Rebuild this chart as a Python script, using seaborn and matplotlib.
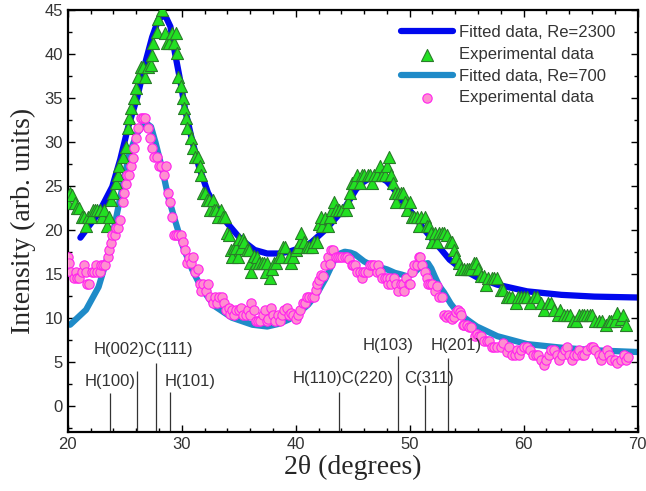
import numpy as np
import pandas as pd
import matplotlib
matplotlib.use("Agg")
import matplotlib.pyplot as plt
from matplotlib.ticker import MultipleLocator
import seaborn as sns

# ---------------- data ----------------
tri_x = [20.0, 20.2, 20.4, 20.6, 20.8, 21.0, 21.2, 21.4, 21.6, 21.8, 22.0, 22.2, 22.4, 22.6, 22.8, 23.0,
         23.2, 23.4, 23.6, 23.8, 24.0, 24.2, 24.4, 24.5, 24.8, 25.1, 25.3, 25.4, 25.5, 25.8, 26.0, 26.2,
         26.4, 26.6, 26.8, 27.0, 27.3, 27.4, 27.5, 27.8, 27.9, 28.3, 28.5, 28.7, 28.9, 29.1, 29.3, 29.5,
         29.6, 29.7, 29.9, 30.1, 30.2, 30.4, 30.5, 30.8, 31.0, 31.2, 31.4, 31.6, 31.7, 31.9, 32.0, 32.2,
         32.4, 32.5, 32.7, 32.8, 33.0, 33.2, 33.4, 33.6, 33.8, 34.0, 34.1, 34.3, 34.4, 34.6, 34.8, 34.9,
         35.0, 35.2, 35.4, 35.5, 35.7, 35.9, 36.0, 36.1, 36.3, 36.5, 36.6, 36.8, 37.0, 37.2, 37.4, 37.5,
         37.7, 37.9, 38.1, 38.3, 38.5, 38.7, 38.9, 39.1, 39.4, 39.6, 39.8, 40.0, 40.2, 40.4, 40.5, 40.7,
         41.0, 41.2, 41.4, 41.6, 41.9, 42.0, 42.2, 42.3, 42.6, 42.8, 43.0, 43.2, 43.4, 43.5, 43.8, 44.1,
         44.4, 44.6, 44.8, 44.9, 45.1, 45.4, 45.6, 45.8, 46.0, 46.3, 46.5, 46.7, 46.9, 47.1, 47.4, 47.6,
         47.8, 48.0, 48.2, 48.4, 48.5, 48.7, 48.8, 49.0, 49.2, 49.4, 49.6, 49.8, 50.0, 50.2, 50.4, 50.6,
         50.8, 51.0, 51.3, 51.5, 51.7, 51.9, 52.0, 52.2, 52.4, 52.6, 52.8, 53.0, 53.3, 53.5, 53.7, 53.9,
         54.1, 54.3, 54.5, 54.8, 55.0, 55.2, 55.4, 55.6, 55.8, 56.0, 56.3, 56.5, 56.7, 56.9, 57.2, 57.4,
         57.7, 58.0, 58.2, 58.5, 58.7, 59.0, 59.3, 59.5, 59.8, 60.0, 60.3, 60.6, 60.9, 61.2, 61.5, 61.8,
         62.1, 62.4, 62.7, 63.0, 63.2, 63.5, 63.8, 64.1, 64.3, 64.6, 64.9, 65.1, 65.3, 65.6, 65.8, 66.0,
         66.3, 66.6, 66.9, 67.2, 67.5, 67.7, 68.0, 68.2, 68.5, 68.7, 69.0]
tri_y = [23.0, 24.2, 24.0, 23.0, 22.5, 22.5, 21.4, 21.4, 20.4, 21.4, 21.4, 22.3, 22.3, 22.3, 22.3, 21.4,
         22.3, 20.4, 21.4, 23.4, 24.2, 25.3, 26.2, 27.2, 28.3, 29.4, 31.6, 32.7, 33.8, 35.0, 36.1, 37.4,
         38.5, 38.5, 37.4, 38.5, 38.7, 39.9, 41.2, 42.5, 43.9, 45.0, 42.4, 41.2, 41.2, 42.4, 41.2, 42.4,
         40.1, 37.4, 36.3, 35.0, 33.8, 32.7, 31.6, 30.4, 29.3, 28.3, 28.3, 27.2, 26.2, 24.2, 24.2, 23.4,
         23.4, 22.3, 23.4, 22.3, 22.3, 21.4, 22.3, 21.4, 21.4, 19.6, 19.4, 17.7, 16.9, 17.9, 17.9, 16.9,
         18.9, 17.9, 18.9, 18.6, 17.7, 17.7, 16.2, 15.2, 17.0, 16.2, 16.9, 16.2, 16.2, 16.2, 15.2, 16.2,
         14.5, 15.5, 16.2, 16.2, 16.9, 16.9, 18.0, 18.0, 16.9, 16.2, 16.9, 17.7, 18.0, 18.6, 19.6, 18.6,
         18.0, 18.0, 18.0, 18.6, 18.6, 20.6, 21.4, 20.4, 21.3, 20.4, 21.4, 22.3, 23.2, 22.3, 22.3, 22.3,
         22.3, 23.2, 24.2, 25.3, 25.3, 26.2, 25.3, 26.2, 26.2, 26.2, 26.2, 25.3, 26.2, 26.2, 27.2, 26.2,
         26.2, 27.2, 28.3, 26.2, 25.3, 24.2, 23.2, 24.2, 24.2, 24.2, 23.2, 22.3, 23.2, 21.4, 21.4, 21.4,
         20.4, 21.4, 21.4, 20.4, 20.4, 19.6, 18.6, 19.6, 18.6, 19.6, 19.6, 19.6, 19.4, 18.6, 18.6, 17.7,
         16.9, 16.2, 15.5, 15.5, 15.5, 15.5, 15.5, 16.2, 16.2, 15.5, 14.7, 14.7, 13.7, 14.5, 14.5, 14.5,
         14.5, 13.2, 13.2, 12.4, 12.4, 12.4, 11.7, 12.4, 12.4, 12.4, 12.4, 11.7, 12.4, 12.4, 11.7, 10.9,
         11.7, 11.7, 10.9, 10.3, 10.9, 10.3, 10.3, 10.3, 9.6, 9.6, 10.3, 10.3, 10.3, 10.3, 10.3, 10.3,
         9.6, 9.6, 9.6, 9.2, 9.6, 9.6, 9.6, 10.5, 9.8, 10.3, 9.2]

cir_x = [20.0, 20.1, 20.3, 20.5, 20.7, 20.8, 21.0, 21.2, 21.4, 21.6, 21.7, 21.9, 22.1, 22.3, 22.5, 22.6,
         22.8, 22.9, 23.1, 23.3, 23.5, 23.6, 23.8, 23.9, 24.1, 24.2, 24.4, 24.6, 24.8, 24.9, 25.1, 25.2,
         25.4, 25.5, 25.7, 25.8, 26.0, 26.2, 26.4, 26.6, 26.8, 27.0, 27.2, 27.4, 27.6, 27.8, 28.0, 28.2,
         28.4, 28.6, 28.8, 29.0, 29.1, 29.3, 29.5, 29.7, 29.9, 30.1, 30.3, 30.5, 30.6, 30.8, 31.0, 31.2,
         31.4, 31.6, 31.7, 31.9, 32.1, 32.3, 32.5, 32.7, 32.9, 33.1, 33.3, 33.5, 33.7, 33.9, 34.1, 34.2,
         34.4, 34.6, 34.8, 35.0, 35.2, 35.4, 35.6, 35.8, 36.0, 36.1, 36.3, 36.5, 36.7, 36.9, 37.1, 37.3,
         37.5, 37.6, 37.8, 38.0, 38.2, 38.4, 38.6, 38.8, 39.0, 39.2, 39.4, 39.6, 39.8, 40.0, 40.2, 40.4,
         40.6, 40.8, 41.0, 41.2, 41.4, 41.6, 41.8, 41.9, 42.0, 42.2, 42.4, 42.6, 42.8, 43.0, 43.1, 43.3,
         43.5, 43.7, 43.9, 44.1, 44.3, 44.5, 44.7, 44.9, 45.0, 45.2, 45.4, 45.6, 45.8, 45.9, 46.1, 46.3,
         46.5, 46.7, 46.9, 47.1, 47.2, 47.4, 47.6, 47.8, 48.0, 48.1, 48.3, 48.4, 48.6, 48.8, 49.0, 49.2,
         49.4, 49.5, 49.7, 49.9, 50.0, 50.2, 50.4, 50.6, 50.8, 50.9, 51.1, 51.3, 51.5, 51.6, 51.8, 52.0,
         52.2, 52.4, 52.6, 52.8, 53.0, 53.2, 53.4, 53.5, 53.7, 53.9, 54.1, 54.2, 54.4, 54.5, 54.7, 54.8,
         55.0, 55.2, 55.4, 55.7, 55.9, 56.1, 56.3, 56.5, 56.8, 57.0, 57.2, 57.4, 57.7, 58.0, 58.2, 58.5,
         58.7, 59.0, 59.2, 59.4, 59.6, 59.8, 60.0, 60.3, 60.6, 60.8, 61.1, 61.3, 61.5, 61.8, 62.0, 62.2,
         62.4, 62.7, 62.9, 63.1, 63.4, 63.6, 63.8, 64.0, 64.2, 64.4, 64.7, 64.9, 65.1, 65.3, 65.6, 65.9,
         66.1, 66.3, 66.6, 66.8, 67.0, 67.3, 67.5, 67.7, 68.0, 68.2, 68.5, 68.8, 69.0, 69.2]
cir_y = [16.9, 16.2, 15.2, 14.5, 15.2, 14.5, 14.5, 15.2, 16.0, 15.2, 13.8, 13.8, 15.2, 15.2, 16.0, 15.2,
         15.2, 16.0, 16.0, 16.0, 16.9, 17.7, 18.5, 19.4, 19.4, 20.2, 20.2, 21.1, 23.2, 24.2, 25.2, 26.2,
         26.2, 27.2, 28.2, 29.3, 30.4, 31.6, 32.7, 32.7, 32.7, 31.6, 30.4, 29.3, 28.3, 28.3, 27.2, 27.2,
         26.2, 27.2, 24.2, 23.2, 21.4, 19.4, 19.4, 19.4, 19.4, 18.6, 17.7, 16.2, 16.8, 16.2, 16.9, 15.2,
         15.5, 13.8, 13.0, 13.8, 13.0, 13.8, 12.4, 11.7, 12.4, 11.7, 12.4, 12.3, 11.7, 10.9, 11.1, 10.4,
         10.9, 10.3, 10.9, 10.9, 11.1, 10.3, 10.3, 10.9, 10.3, 11.7, 10.9, 9.6, 9.6, 9.6, 10.3, 10.9,
         9.6, 9.8, 11.1, 10.3, 9.6, 10.3, 9.6, 10.3, 10.9, 11.1, 10.3, 10.5, 10.3, 9.8, 10.3, 10.9,
         11.7, 11.7, 12.3, 12.4, 12.4, 12.4, 13.2, 13.8, 14.3, 14.8, 14.7, 16.0, 16.9, 16.1, 17.7, 17.7,
         16.9, 16.9, 16.9, 16.9, 16.9, 16.9, 16.7, 16.0, 16.0, 16.0, 15.2, 15.2, 14.5, 15.2, 15.2, 15.2,
         16.0, 16.0, 16.0, 15.2, 16.0, 15.2, 14.5, 14.5, 14.5, 13.8, 14.5, 13.8, 14.5, 13.8, 13.0, 13.8,
         13.8, 13.0, 14.5, 13.8, 13.8, 15.2, 16.0, 16.0, 16.9, 16.9, 16.0, 15.2, 14.5, 13.8, 13.8, 13.8,
         13.0, 13.6, 12.4, 12.4, 10.3, 10.1, 10.3, 10.1, 9.8, 10.1, 10.6, 10.9, 10.6, 10.3, 9.2, 9.2,
         9.2, 9.0, 9.0, 7.9, 8.2, 7.9, 7.9, 7.3, 7.3, 7.3, 6.7, 6.7, 6.7, 6.7, 7.1, 6.1,
         6.7, 5.8, 5.8, 6.3, 5.8, 6.3, 6.7, 6.7, 6.3, 5.8, 5.8, 5.8, 5.2, 4.6, 5.2, 5.8,
         6.3, 6.3, 5.8, 5.2, 5.8, 6.3, 6.7, 5.8, 5.2, 5.8, 5.8, 6.3, 5.8, 5.8, 6.3, 6.7,
         6.7, 6.3, 5.8, 5.2, 5.8, 6.3, 5.8, 5.2, 5.2, 4.8, 5.2, 5.8, 5.2, 5.5]

fit2300_x = [21.1, 22.7, 23.9, 24.6, 25.3, 26.1, 26.8, 27.4, 27.95, 28.3, 28.6, 29.0, 29.4, 29.9, 30.3,
             30.9, 31.5, 32.3, 33.5, 35.0, 35.6, 36.4, 37.5, 38.5, 39.4, 40.8, 41.4, 42.6, 43.5, 44.3,
             45.3, 45.8, 46.4, 46.9, 47.5, 48.0, 48.9, 49.5, 50.2, 51.3, 52.0, 52.8, 53.5, 54.5, 55.9,
             57.7, 60.3, 63.3, 66.2, 70.0]
fit2300_y = [19.1, 21.9, 24.9, 28.0, 31.7, 35.1, 39.0, 41.9, 43.9, 44.3, 44.2, 43.1, 40.1, 36.7, 33.6,
             30.2, 27.2, 24.2, 21.5, 19.2, 18.5, 17.7, 17.3, 17.3, 17.5, 18.1, 18.6, 20.0, 21.3, 22.5,
             24.6, 25.3, 25.8, 26.0, 25.9, 25.5, 24.2, 23.0, 21.9, 20.0, 18.9, 17.7, 16.6, 15.6, 14.6,
             13.75, 13.0, 12.6, 12.4, 12.3]

fit700_x = [20.2, 21.6, 22.7, 23.6, 24.2, 24.8, 25.4, 26.1, 26.6, 26.9, 27.3, 27.7, 28.3, 28.8, 29.4,
            30.1, 30.9, 31.8, 32.9, 34.4, 36.2, 37.5, 38.5, 39.4, 40.3, 41.1, 41.9, 42.6, 43.4, 43.9,
            44.3, 44.8, 45.2, 46.0, 46.6, 47.2, 48.0, 48.7, 49.3, 49.8, 50.3, 50.7, 51.2, 51.6, 51.9,
            52.2, 52.6, 53.0, 53.6, 54.2, 54.6, 55.9, 57.7, 60.3, 63.3, 66.2, 70.0]
fit700_y = [9.2, 10.9, 13.5, 17.4, 21.1, 24.9, 28.7, 31.0, 31.9, 32.1, 31.7, 29.9, 26.8, 23.8, 21.1,
            18.1, 15.5, 13.2, 11.3, 10.0, 9.2, 9.0, 9.3, 9.8, 10.6, 11.5, 12.8, 14.4, 16.6, 17.3,
            17.5, 17.4, 17.2, 16.4, 16.0, 15.8, 15.5, 15.1, 14.9, 14.7, 15.0, 15.5, 16.1, 16.2, 15.6,
            14.7, 13.6, 12.9, 11.6, 10.6, 10.2, 9.0, 7.9, 7.0, 6.6, 6.3, 6.1]

peak_pos = [23.7, 26.1, 27.75, 28.95, 43.8, 49.0, 51.3, 53.4]
peak_top = [1.4, 3.9, 4.8, 1.5, 1.6, 5.6, 2.4, 5.4]

label_text = ["H(100)", "H(002)C(111)", "H(101)", "H(110)C(220)", "H(103)", "C(311)", "H(201)"]
label_x = [23.7, 26.6, 30.75, 44.2, 48.1, 51.7, 54.1]
label_y = [2.8, 6.4, 2.8, 3.1, 6.8, 3.1, 6.8]

# ---------------- plot ----------------
sns.set_style("ticks")
plt.rcParams["font.family"] = ["Liberation Sans", "DejaVu Sans"]

fig = plt.figure(figsize=(6.46, 4.91), dpi=100)
ax = fig.add_axes([0.105, 0.12, 0.882, 0.86])

c_fit1 = "#0008ee"
c_fit2 = "#1f8bc8"

df_f1 = pd.DataFrame({"x": fit2300_x, "y": fit2300_y})
df_f2 = pd.DataFrame({"x": fit700_x, "y": fit700_y})
df_t = pd.DataFrame({"x": tri_x, "y": tri_y})
df_c = pd.DataFrame({"x": cir_x, "y": cir_y})

sns.lineplot(data=df_f1, x="x", y="y", ax=ax, color=c_fit1, lw=4.5, sort=False,
             label="Fitted data, Re=2300", zorder=2)
sns.scatterplot(data=df_t, x="x", y="y", ax=ax, marker="^", s=75, color="#22e022",
                edgecolor="#2a7d2a", linewidth=0.8, label="Experimental data", zorder=3)
sns.lineplot(data=df_f2, x="x", y="y", ax=ax, color=c_fit2, lw=4.5, sort=False,
             label="Fitted data, Re=700", zorder=2)
sns.scatterplot(data=df_c, x="x", y="y", ax=ax, marker="o", s=45, color="#ff8fd0",
                edgecolor="#ff22ee", linewidth=0.8, label="Experimental data", zorder=3)

ax.vlines(peak_pos, -3, peak_top, color="#333333", lw=0.9, zorder=1)
for t, x, y in zip(label_text, label_x, label_y):
    ax.text(x, y, t, ha="center", va="center", fontsize=12, color="#333333")

ax.set_xlim(20, 70)
ax.set_ylim(-3, 45)
ax.xaxis.set_major_locator(MultipleLocator(10))
ax.xaxis.set_minor_locator(MultipleLocator(2))
ax.yaxis.set_major_locator(MultipleLocator(5))
ax.yaxis.set_minor_locator(MultipleLocator(2.5))
ax.tick_params(which="both", direction="in", top=True, right=True, colors="black",
               labelcolor="#333333", labelsize=12, width=1.0)
ax.tick_params(which="major", length=5)
ax.tick_params(which="minor", length=3)
for sp in ax.spines.values():
    sp.set_linewidth(1.6)
    sp.set_color("black")

ax.set_xlabel("2θ (degrees)", family=["Liberation Serif", "DejaVu Serif"], fontsize=20, labelpad=2)
ax.set_ylabel("Intensity (arb. units)", family=["Liberation Serif", "DejaVu Serif"], fontsize=20, labelpad=6)

leg = ax.legend(loc="upper right", frameon=False, fontsize=12, handlelength=3.1,
                labelspacing=0.4, handletextpad=0.4, borderaxespad=0.4,
                bbox_to_anchor=(0.985, 0.995))
for txt in leg.get_texts():
    txt.set_color("#333333")

fig.savefig("out.png", dpi=100)
